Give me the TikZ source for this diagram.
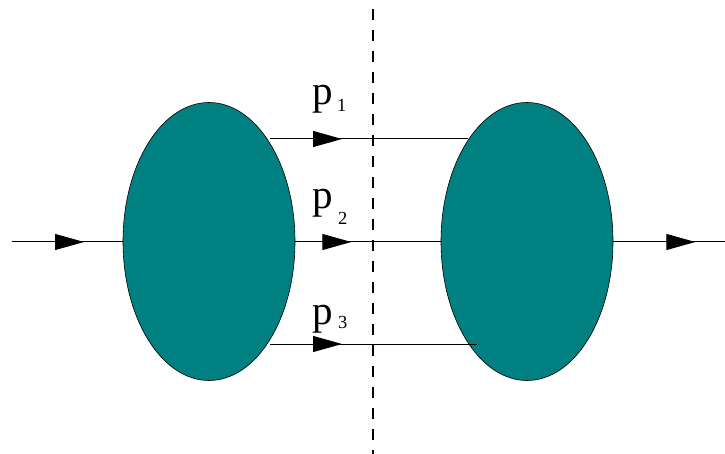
\documentclass[tikz,border=0pt]{standalone}
\usepackage{fontspec}
\setmainfont{Liberation Serif}
\usetikzlibrary{shapes.geometric,arrows.meta,decorations.markings}
\definecolor{blob}{RGB}{0,128,128}
\tikzset{
  blobnode/.style={ellipse,draw=black,line width=0.6pt,fill=blob,minimum width=172pt,minimum height=278pt,inner sep=0pt},
  wire/.style={line width=1pt},
  midarrow/.style={postaction={decorate},decoration={markings,mark=at position #1 with {\arrow{Triangle[length=29pt,width=16pt]}}}},
  plabel/.style={inner sep=0pt,anchor=base west,font=\fontsize{41}{44}\selectfont},
  sublabel/.style={inner sep=0pt,anchor=base west,font=\fontsize{18.5}{20}\selectfont},
  cut/.style={line width=1.3pt,dash pattern=on 11pt off 10pt}
}
\begin{document}
\begin{tikzpicture}[x=1pt,y=-1pt]
\useasboundingbox (0,0) rectangle (725,454);
% free ends
\coordinate (in) at (12,242);
\coordinate (out) at (725,242);
\coordinate (t1) at (270,139);
\coordinate (t2) at (468,139);
\coordinate (b1) at (270,344);
\coordinate (b2) at (477,344);
\coordinate (cuttop) at (373,9);
\coordinate (cutbot) at (373,454);
\node[blobnode] (L) at (209,241.5) {};
\node[blobnode] (R) at (527,241.5) {};
% connectors
\draw[wire,midarrow=72pt] (t1) -- (t2);
\draw[wire,midarrow=72pt] (b1) -- (b2);
\draw[wire,midarrow=72pt] (in) -- (L.west |- in);
\path (L.east |- in) coordinate (le) (R.west |- in) coordinate (rw) (R.east |- in) coordinate (re);
\draw[wire,midarrow=56pt] (le) -- (rw);
\draw[wire,midarrow=82pt] (re) -- (out);
% cut line
\draw[cut] (cuttop) -- (cutbot);
% labels
\node[plabel] (p1) at (312,104.5) {p};
\node[sublabel] (s1) at (337,112) {1};
\node[plabel] (p2) at (312,208.5) {p};
\node[sublabel] (s2) at (338,225) {2};
\node[plabel] (p3) at (312,324.5) {p};
\node[sublabel] (s3) at (338,328) {3};
\end{tikzpicture}
\end{document}
